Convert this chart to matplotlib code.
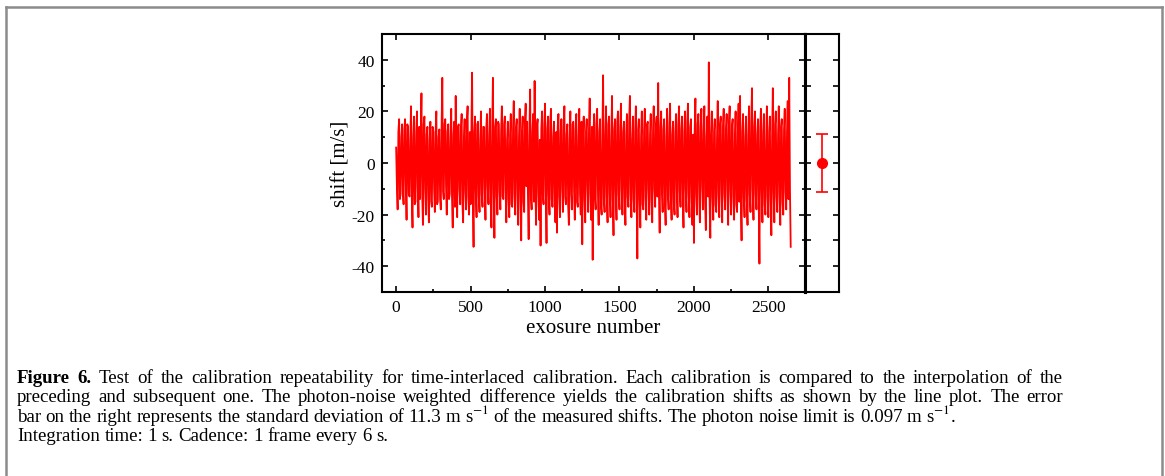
import matplotlib
matplotlib.use("Agg")
import matplotlib.pyplot as plt
from matplotlib.ticker import MultipleLocator
from matplotlib.lines import Line2D
import numpy as np

plt.rcParams['font.family'] = ['Liberation Serif', 'DejaVu Serif']
plt.rcParams['mathtext.fontset'] = 'stix'
plt.rcParams['axes.unicode_minus'] = False
plt.rcParams['path.simplify'] = False

# shift [m/s] read at exposures 0, 10, 20, ...
shifts = [
    6, -18, 17, -12, 15, -16, 17, -22, 14, -13,
    22, -25, 18, -15, 20, -21, -14, 27, -24, 18,
    -20, 14, -23, 16, -17, 12, -19, 20, -15, 13,
    -18, 33, -14, 17, -20, 15, -12, 21, -25, 16,
    26, -21, 15, -16, 19, -23, 17, -18, 22, -20,
    -16, 35, -32.5, 18, -21, 16, -19, 20, -17, 14,
    -22, 19, -16, 21, -25, 33, -29, 17, -20, 15,
    -18, 22, -14, 18, -23, 16, -21, 19, -17, 24,
    -20, 17, -24, 21, -30, 18, -19, 23, 16, -29.5,
    28.5, -18, 19, 31.8, -24, 17, -22, -32, 20, -16,
    23, -31, 18, -20, 21, -17, 16, -23, -27, 19,
    -21, 17, -19, 22, -16, 15, -24, 20, -18, 16,
    -22, 19, -17, 21, -20, -31.5, 18, -23, 17, -19,
    25, -22, -37.5, 19, -18, 21, -24, 17, -20, 34,
    -19, 22, -23, 18, -21, 26, -28, 17, -22, 20,
    -18, 23, -20, 16, -24, 19, -17, 26, -21, 18,
    -19, 22, -37, 17, -25, 20, -18, 21, -22, 16,
    -20, 19, -23, 22, -17, 18, 31, -27, 20, -19,
    17, -24, 21, -18, 23, -22, 16, -20, 19, -21,
    22, -17, 18, -25, 20, -19, 23, -21, 17, -24,
    -31, 25, -20, 19, -23, 21, -18, 22, -26, 18,
    39, -29, 20, -22, 17, -19, 24, -21, 18, -23,
    21, -18, 19, -24, 22, -20, 17, -22, 20, -19,
    23, 26, -30, 19, -21, 18, -24, 22, -19, 29,
    -22, 20, -18, 17, -39, 21, -23, 19, -20, 22,
    -21, 18, -28, 29, -23, 20, -19, 22, -24, 17,
    -20, 21, -18, 24, 33, -32.5,
]
# shift [m/s] read at exposures 5, 15, 25, ...
shiftsMid = [
    -9, 12, -14, 10, -11, 13, -8, 15, -12, 9,
    -13, 10, -16, 12, -9, 14, 11, -12, 15, -10,
    11, -13, 9, -15, 14, -10, 12, -16, 10, -14,
    13, -11, 15, -9, 12, -14, 10, -13, 11, -17,
    -12, 14, -10, 13, -15, 9, -11, 16, -13, 12,
    10, -14, 12, -11, 15, -13, 9, -12, 14, -10,
    13, -9, 11, -15, 12, -10, 14, -13, 16, -11,
    12, -13, 15, -10, 9, -14, 11, -16, 13, -12,
    14, -11, 10, -13, 12, -15, 16, -9, -12, 11,
    -13, 12, -15, -10, 14, -11, 9, 13, -12, 15,
    -11, 13, -12, 16, -14, 10, -15, 12, 14, -13,
    12, -10, 14, -13, 11, -16, 9, -12, 15, -11,
    13, -15, 10, -12, 16, 11, -14, 12, -9, 13,
    -12, 14, 11, -13, 15, -10, 12, -16, 9, -14,
    11, -13, 15, -12, 10, -14, 13, -11, 16, -12,
    14, -10, 12, -15, 11, -13, 16, -12, 9, -14,
    12, -11, 13, -14, 10, -16, 12, -13, 15, -10,
    11, -14, 12, -10, 15, -13, -12, 14, -11, 13,
    -15, 10, -12, 14, -13, 11, -16, 12, -10, 15,
    -11, 13, -14, 12, -10, 16, -12, 14, -13, 11,
    13, -12, 15, -11, 14, -9, 12, -15, 10, -13,
    -14, 11, -13, 12, -16, 10, -12, 15, -11, 14,
    -12, 13, -10, 15, -11, 14, -13, 9, -16, 12,
    -15, -15, 12, -13, 10, -14, 11, -12, 16, -10,
    14, -12, 11, -15, 13, -10, 12, -16, 9, -13,
    12, -14, 10, -11, 15, -13, 11, -12, 14, -15,
    13, -11, 12, -14, -10,
]
meanShift = 0.0
stdShift = 11.3

captionBold = "Figure 6."
caption = [
    "Test of the calibration repeatability for time-interlaced calibration. Each calibration is compared to the interpolation of the",
    "preceding and subsequent one. The photon-noise weighted difference yields the calibration shifts as shown by the line plot. The error",
    r"bar on the right represents the standard deviation of 11.3 m s$^{-1}$ of the measured shifts. The photon noise limit is 0.097 m s$^{-1}$.",
    "Integration time: 1 s. Cadence: 1 frame every 6 s.",
]

W, H = 1165, 477
fig = plt.figure(figsize=(W / 100, H / 100), dpi=100)

ax = fig.add_axes([381.7 / W, 1 - 293 / H, (805 - 381.7) / W, (293 - 35) / H])
side = fig.add_axes([805 / W, 1 - 293 / H, (839 - 805) / W, (293 - 35) / H])

series = np.empty(len(shifts) + len(shiftsMid))
series[0::2] = shifts
series[1::2] = shiftsMid
x = np.arange(len(series)) * 5
ax.plot(x, series, color='#ff0000', lw=1.3)
ax.set_xlim(-97, 2746)
ax.set_ylim(-50, 50)
ax.xaxis.set_major_locator(MultipleLocator(500))
ax.xaxis.set_minor_locator(MultipleLocator(250))
ax.yaxis.set_major_locator(MultipleLocator(20))
ax.yaxis.set_minor_locator(MultipleLocator(10))
ax.tick_params(which='both', direction='in', top=True, right=True, labelsize=12.5, width=1.2, pad=5)
ax.tick_params(which='major', length=4)
ax.tick_params(which='minor', length=2, top=False)
ax.set_xlabel("exosure number", fontsize=15, labelpad=2)
ax.set_ylabel("shift [m/s]", fontsize=15, labelpad=1)
for s in ax.spines.values():
    s.set_linewidth(1.5)
ax.spines['right'].set_linewidth(2.2)

side.errorbar([0], [meanShift], yerr=[stdShift], fmt='o', color='#ff0000', ms=7, capsize=4.5, elinewidth=1.2, capthick=1.2)
side.set_xlim(-1, 1)
side.set_ylim(-50, 50)
side.set_xticks([])
side.yaxis.set_major_locator(MultipleLocator(20))
side.yaxis.set_minor_locator(MultipleLocator(10))
side.tick_params(which='both', direction='in', left=True, right=True, labelleft=False, width=1.2)
side.tick_params(which='both', length=4)
side.spines['left'].set_linewidth(2.2)
side.spines['right'].set_linewidth(1.5)
for k in ['top', 'bottom']:
    side.spines[k].set_linestyle((0, (1, 1)))
    side.spines[k].set_linewidth(1.5)

# grey frame around figure
frameColor = '#8c8c8c'
fig.add_artist(Line2D([6 / W, 6 / W], [0, 1 - 7.5 / H], color=frameColor, lw=1.8, transform=fig.transFigure))
fig.add_artist(Line2D([6 / W, 1161.5 / W], [1 - 7.5 / H, 1 - 7.5 / H], color=frameColor, lw=1.8, transform=fig.transFigure))
fig.add_artist(Line2D([1161.5 / W, 1161.5 / W], [0, 1 - 7.5 / H], color=frameColor, lw=1.8, transform=fig.transFigure))

# caption, first two lines justified
capSize = 13.6
baseY = [383, 402.5, 422, 441.5]
capLeft, capRight = 17, 1063
renderer = fig.canvas.get_renderer()


def word_width(w, weight):
    t = fig.text(0, 0, w, fontsize=capSize, fontweight=weight)
    wd = t.get_window_extent(renderer).width
    t.remove()
    return wd


def put_line(tokens, yy, justify):
    widths = [word_width(w, wt) for w, wt in tokens]
    gap = 4.5
    if justify:
        gap = (capRight - capLeft - sum(widths)) / (len(tokens) - 1)
    xx = capLeft
    for (w, wt), wd in zip(tokens, widths):
        fig.text(xx / W, 1 - yy / H, w, fontsize=capSize, fontweight=wt, ha='left', va='baseline')
        xx += wd + gap


lines = [[(w, 'bold') for w in captionBold.split()] + [(w, 'normal') for w in caption[0].split()]]
lines += [[(w, 'normal') for w in c.split()] for c in caption[1:]]
for i, (tokens, yy) in enumerate(zip(lines, baseY)):
    put_line(tokens, yy, i < 2)

fig.savefig("out.png", dpi=100)
